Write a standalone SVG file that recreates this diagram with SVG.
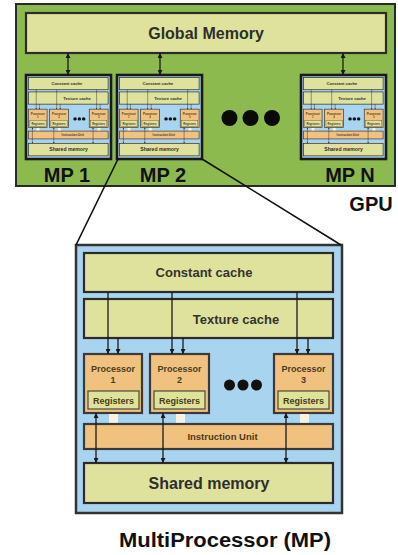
<svg xmlns="http://www.w3.org/2000/svg" xmlns:xlink="http://www.w3.org/1999/xlink" width="398" height="555" viewBox="0 0 398 555">
<style>
text{font-family:"Liberation Sans",Arial,Helvetica,sans-serif;font-weight:bold;text-anchor:middle;}
.gpu{fill:#8dba4f;stroke:#2a2a2a;stroke-width:2;}
.mem{fill:#dfe29c;stroke:#2b2b2b;stroke-width:2.2;}
.blue{fill:#a9d4ef;stroke:#333;stroke-width:2.5;}
.proc{fill:#f1c27f;stroke:#3a3a3a;stroke-width:2.2;}
.reg{fill:#dfe39a;stroke:#4a4a3a;stroke-width:1.2;}
.sq{fill:#f7f3e3;stroke:none;}
.mpbox{fill:none;stroke:#1a1a1a;stroke-width:2.6;}
.ln{stroke:#1a1a1a;stroke-width:1.3;fill:none;}
.zl{stroke:#111;stroke-width:1.6;fill:none;}
.t1{font-size:16px;fill:#2e2e2e;}
.t2{font-size:13px;fill:#333;}
.t3{font-size:9px;fill:#4a3a24;}
.t4{font-size:9.5px;fill:#4a3a24;}
.big{font-size:20px;fill:#111;}
</style>
<defs>
<marker id="ah" viewBox="0 0 10 10" refX="10" refY="5" markerWidth="5" markerHeight="5" orient="auto-start-reverse" markerUnits="userSpaceOnUse">
<path d="M0,0 L10,5 L0,10 z" fill="#1a1a1a"/>
</marker>
</defs>

<g id="gpu">
<rect class="gpu" x="16" y="4" width="379" height="182"/>
</g>
<g id="global-memory">
<rect class="mem" x="26" y="13" width="360" height="40"/>
<text class="t1" x="206" y="39">Global Memory</text>
</g>

<!-- detail multiprocessor -->
<g id="mp-detail">
<rect class="blue" x="76" y="245" width="266" height="268"/>
<g id="constant-cache">
<rect class="mem" x="84" y="253" width="249" height="39"/>
<text class="t2" x="204" y="277">Constant cache</text>
</g>
<g id="texture-cache">
<rect class="mem" x="84" y="299" width="249" height="39"/>
<text class="t2" x="236" y="324">Texture cache</text>
</g>
<g id="processor-1">
<rect class="proc" x="84" y="354" width="58" height="59"/>
<text class="t3" x="113" y="372">Processor</text>
<text class="t3" x="113" y="383">1</text>
<rect class="reg" x="88" y="391" width="51" height="18"/>
<text class="t3" x="113.5" y="403.5">Registers</text>
</g>
<g id="processor-2">
<rect class="proc" x="150" y="354" width="59" height="59"/>
<text class="t3" x="179.5" y="372">Processor</text>
<text class="t3" x="179.5" y="383">2</text>
<rect class="reg" x="154" y="391" width="51" height="18"/>
<text class="t3" x="179.5" y="403.5">Registers</text>
</g>
<g id="processor-3">
<rect class="proc" x="274" y="354" width="59" height="59"/>
<text class="t3" x="303.5" y="372">Processor</text>
<text class="t3" x="303.5" y="383">3</text>
<rect class="reg" x="278" y="391" width="51" height="18"/>
<text class="t3" x="303.5" y="403.5">Registers</text>
</g>
<g id="mp-ellipsis">
<circle cx="229.5" cy="385" r="5.5" fill="#111"/>
<circle cx="243" cy="385" r="5.5" fill="#111"/>
<circle cx="256.5" cy="385" r="5.5" fill="#111"/>
</g>
<g id="ports">
<rect class="sq" x="109" y="414" width="9" height="10"/>
<rect class="sq" x="176" y="414" width="9" height="10"/>
<rect class="sq" x="300" y="414" width="9" height="10"/>
</g>
<g id="instruction-unit">
<rect class="proc" x="84" y="424" width="249" height="25"/>
<text class="t4" x="222.5" y="439.5">Instruction Unit</text>
</g>
<g id="shared-memory">
<rect class="mem" x="84" y="463" width="249" height="40"/>
<text class="t1" x="209" y="489">Shared memory</text>
</g>
<g id="mp-connectors">
<line class="ln" x1="108" y1="292" x2="108" y2="354" marker-end="url(#ah)"/>
<line class="ln" x1="118" y1="338" x2="118" y2="354" marker-end="url(#ah)"/>
<line class="ln" x1="172" y1="292" x2="172" y2="354" marker-end="url(#ah)"/>
<line class="ln" x1="183" y1="338" x2="183" y2="354" marker-end="url(#ah)"/>
<line class="ln" x1="297" y1="292" x2="297" y2="354" marker-end="url(#ah)"/>
<line class="ln" x1="308" y1="338" x2="308" y2="354" marker-end="url(#ah)"/>
<line class="ln" x1="96" y1="413" x2="96" y2="463" marker-start="url(#ah)" marker-end="url(#ah)"/>
<line class="ln" x1="163" y1="413" x2="163" y2="463" marker-start="url(#ah)" marker-end="url(#ah)"/>
<line class="ln" x1="286" y1="413" x2="286" y2="463" marker-start="url(#ah)" marker-end="url(#ah)"/>
</g>
</g>

<!-- miniature multiprocessors -->
<g id="mp1">
<use xlink:href="#mp-detail" href="#mp-detail" transform="translate(26,75) scale(0.3195,0.3134) translate(-76,-245)"/>
<rect class="mpbox" x="26" y="75" width="85" height="84"/>
<text class="big" x="67" y="182">MP 1</text>
</g>
<g id="mp2">
<use xlink:href="#mp-detail" href="#mp-detail" transform="translate(117,75) scale(0.3195,0.3134) translate(-76,-245)"/>
<rect class="mpbox" x="117" y="75" width="85" height="84"/>
<text class="big" x="163" y="182">MP 2</text>
</g>
<g id="mpn">
<use xlink:href="#mp-detail" href="#mp-detail" transform="translate(301,75) scale(0.3195,0.3134) translate(-76,-245)"/>
<rect class="mpbox" x="301" y="75" width="85" height="84"/>
<text class="big" x="350" y="182">MP N</text>
</g>
<g id="gpu-ellipsis">
<circle cx="229.5" cy="118" r="8" fill="#0a0a0a"/>
<circle cx="250.5" cy="118" r="8" fill="#0a0a0a"/>
<circle cx="272" cy="118" r="8" fill="#0a0a0a"/>
</g>

<g id="connectors">
<line class="ln" x1="68" y1="53" x2="68" y2="75" marker-start="url(#ah)" marker-end="url(#ah)"/>
<line class="ln" x1="160" y1="53" x2="160" y2="75" marker-start="url(#ah)" marker-end="url(#ah)"/>
<line class="ln" x1="343" y1="53" x2="343" y2="75" marker-start="url(#ah)" marker-end="url(#ah)"/>
<line class="zl" x1="118" y1="159" x2="76" y2="245"/>
<line class="zl" x1="202" y1="159" x2="341" y2="245"/>
</g>

<g id="labels">
<text class="big" x="371" y="211">GPU</text>
<text class="big" x="225" y="547" font-size="21" textLength="212" lengthAdjust="spacingAndGlyphs">MultiProcessor (MP)</text>
</g>
</svg>
